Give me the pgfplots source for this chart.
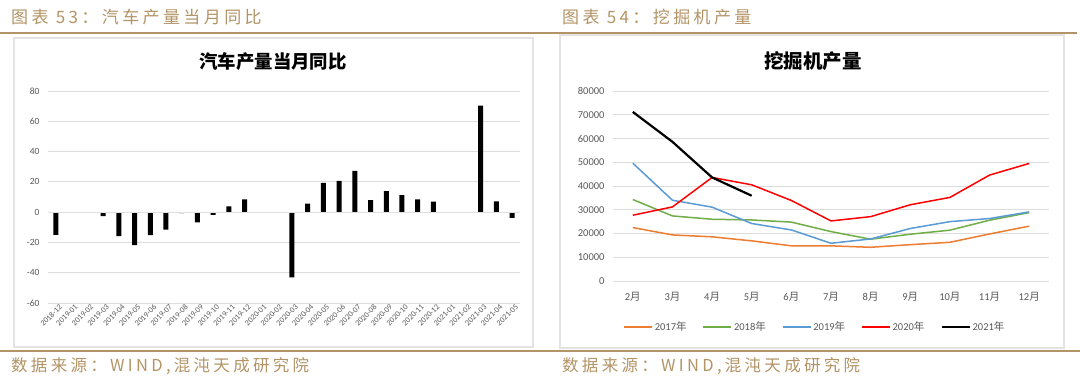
\documentclass[border=0pt]{standalone}
\usepackage{pgfplots}
\pgfplotsset{compat=1.18}
\usepackage{fontspec}
\setmainfont{Carlito}
\newfontfamily\cjk{Noto Sans CJK SC}
\newfontfamily\cjkwide[LetterSpace=20]{Noto Sans CJK SC}
\definecolor{tan}{HTML}{B39466}
\definecolor{boxgray}{HTML}{E3E3E3}
\definecolor{gridgray}{HTML}{DDDDDD}
\definecolor{labelgray}{HTML}{595959}
\definecolor{c17}{HTML}{ED7D31}
\definecolor{c18}{HTML}{70AD47}
\definecolor{c19}{HTML}{5B9BD5}
\definecolor{c20}{HTML}{FF0000}
\begin{document}
\begin{tikzpicture}[x=1pt,y=1pt]
\path[use as bounding box, fill=white] (0pt,0pt) rectangle (1080pt,381pt);
% rules
\draw[tan, line width=2pt] (0pt,348pt) -- (1077pt,348pt);
\draw[tan, line width=2pt] (0pt,30.5pt) -- (1080pt,30.5pt);
% boxes
\draw[boxgray, line width=1.2pt] (14pt,343pt) rectangle (533pt,34pt);
\draw[boxgray, line width=1.2pt] (560pt,346pt) rectangle (1064pt,33pt);
% headers
\node[anchor=west, text=tan, font=\cjkwide\fontsize{17}{19}\selectfont, inner sep=0pt] at (11pt,364pt) {图表 53：汽车产量当月同比};
\node[anchor=west, text=tan, font=\cjkwide\fontsize{17}{19}\selectfont, inner sep=0pt] at (562pt,364pt) {图表 54：挖掘机产量};
\node[anchor=west, text=tan, font=\cjkwide\fontsize{16.5}{19}\selectfont, inner sep=0pt] at (11pt,15pt) {数据来源：WIND,混沌天成研究院};
\node[anchor=west, text=tan, font=\cjkwide\fontsize{16.5}{19}\selectfont, inner sep=0pt] at (562pt,15pt) {数据来源：WIND,混沌天成研究院};
% titles
\node[font=\cjk\bfseries\fontsize{18.4}{20}\selectfont, inner sep=0pt] at (273pt,319pt) {汽车产量当月同比};
\node[font=\cjk\bfseries\fontsize{19.5}{21}\selectfont, inner sep=0pt] at (813pt,320pt) {挖掘机产量};

\begin{axis}[at={(48pt,78pt)}, anchor=south west, scale only axis,
  width=472pt, height=212pt,
  xmin=-0.5, xmax=29.5, ymin=-60, ymax=80, ytick={-60,-40,...,80},
  xtick={0,...,29},
  xticklabels={2018-12,2019-01,2019-02,2019-03,2019-04,2019-05,2019-06,2019-07,2019-08,2019-09,2019-10,2019-11,2019-12,2020-01,2020-02,2020-03,2020-04,2020-05,2020-06,2020-07,2020-08,2020-09,2020-10,2020-11,2020-12,2021-01,2021-02,2021-03,2021-04,2021-05},
  x tick label style={rotate=45, anchor=north east, font=\fontsize{8}{8.5}\selectfont, text=labelgray, inner sep=0.5pt, yshift=-2pt, xshift=2pt},
  y tick label style={font=\fontsize{9.5}{10}\selectfont, text=labelgray, xshift=-5pt},
  ymajorgrids, grid style={gridgray, line width=0.8pt},
  axis line style={draw=none}, major tick length=0pt,
  /pgf/number format/assume math mode=true,
  clip=false]
\addplot[ybar, bar width=5pt, fill=black, draw=none] coordinates {
(0,-15) (1,0) (2,0) (3,-2.7) (4,-15.8) (5,-21.8) (6,-15.1) (7,-11.6) (8,-0.7) (9,-6.7)
(10,-1.8) (11,3.8) (12,8.4) (13,0) (14,0) (15,-43.1) (16,5.6) (17,19.3) (18,20.7) (19,27.3)
(20,8) (21,13.8) (22,11.3) (23,8.4) (24,6.9) (25,0) (26,0) (27,70.4) (28,7.1) (29,-3.8)};
\draw[gridgray!80!black!40, line width=0.8pt] (axis cs:-0.5,0) -- (axis cs:29.5,0);
\end{axis}

\begin{axis}[at={(613pt,100pt)}, anchor=south west, scale only axis,
  width=436pt, height=190pt,
  xmin=-0.5, xmax=10.5, ymin=0, ymax=80000, ytick={0,10000,...,80000},
  xtick={0,...,10},
  xticklabels={2{\cjk 月},3{\cjk 月},4{\cjk 月},5{\cjk 月},6{\cjk 月},7{\cjk 月},8{\cjk 月},9{\cjk 月},10{\cjk 月},11{\cjk 月},12{\cjk 月}},
  x tick label style={font=\fontsize{10.5}{12}\selectfont, text=labelgray, yshift=-8pt},
  y tick label style={font=\fontsize{10.5}{12}\selectfont, text=labelgray, xshift=-5pt},
  scaled y ticks=false,
  yticklabel={\pgfmathprintnumber[fixed, 1000 sep={}]{\tick}},
  ymajorgrids, grid style={gridgray, line width=0.8pt},
  axis line style={draw=none}, major tick length=0pt,
  /pgf/number format/assume math mode=true,
  legend style={at={(0.463,-0.242)}, anchor=center, draw=none, fill=none,
    legend columns=5, font=\fontsize{10.5}{12}\selectfont, text=labelgray,
    /tikz/every even column/.append style={column sep=14pt}},
  legend image code/.code={\draw[#1] (0pt,0pt) -- (28pt,0pt);},
  clip=false]
\addplot[c17, line width=1.5pt] coordinates {(0,22500) (1,19400) (2,18600) (3,16900) (4,14800) (5,14800) (6,14200) (7,15300) (8,16300) (9,19800) (10,23100)};
\addlegendentry{2017{\cjk 年}}
\addplot[c18, line width=1.5pt] coordinates {(0,34300) (1,27400) (2,26000) (3,25700) (4,24800) (5,20800) (6,17600) (7,19700) (8,21400) (9,25600) (10,28800)};
\addlegendentry{2018{\cjk 年}}
\addplot[c19, line width=1.5pt] coordinates {(0,49600) (1,34000) (2,31100) (3,24200) (4,21500) (5,15900) (6,17700) (7,22100) (8,25000) (9,26300) (10,29100)};
\addlegendentry{2019{\cjk 年}}
\addplot[c20, line width=1.5pt] coordinates {(0,27700) (1,31200) (2,43600) (3,40500) (4,33900) (5,25300) (6,27100) (7,32100) (8,35200) (9,44600) (10,49500)};
\addlegendentry{2020{\cjk 年}}
\addplot[black, line width=2.2pt] coordinates {(0,71200) (1,58600) (2,43600) (3,35900)};
\addlegendentry{2021{\cjk 年}}
\end{axis}
\end{tikzpicture}
\end{document}
